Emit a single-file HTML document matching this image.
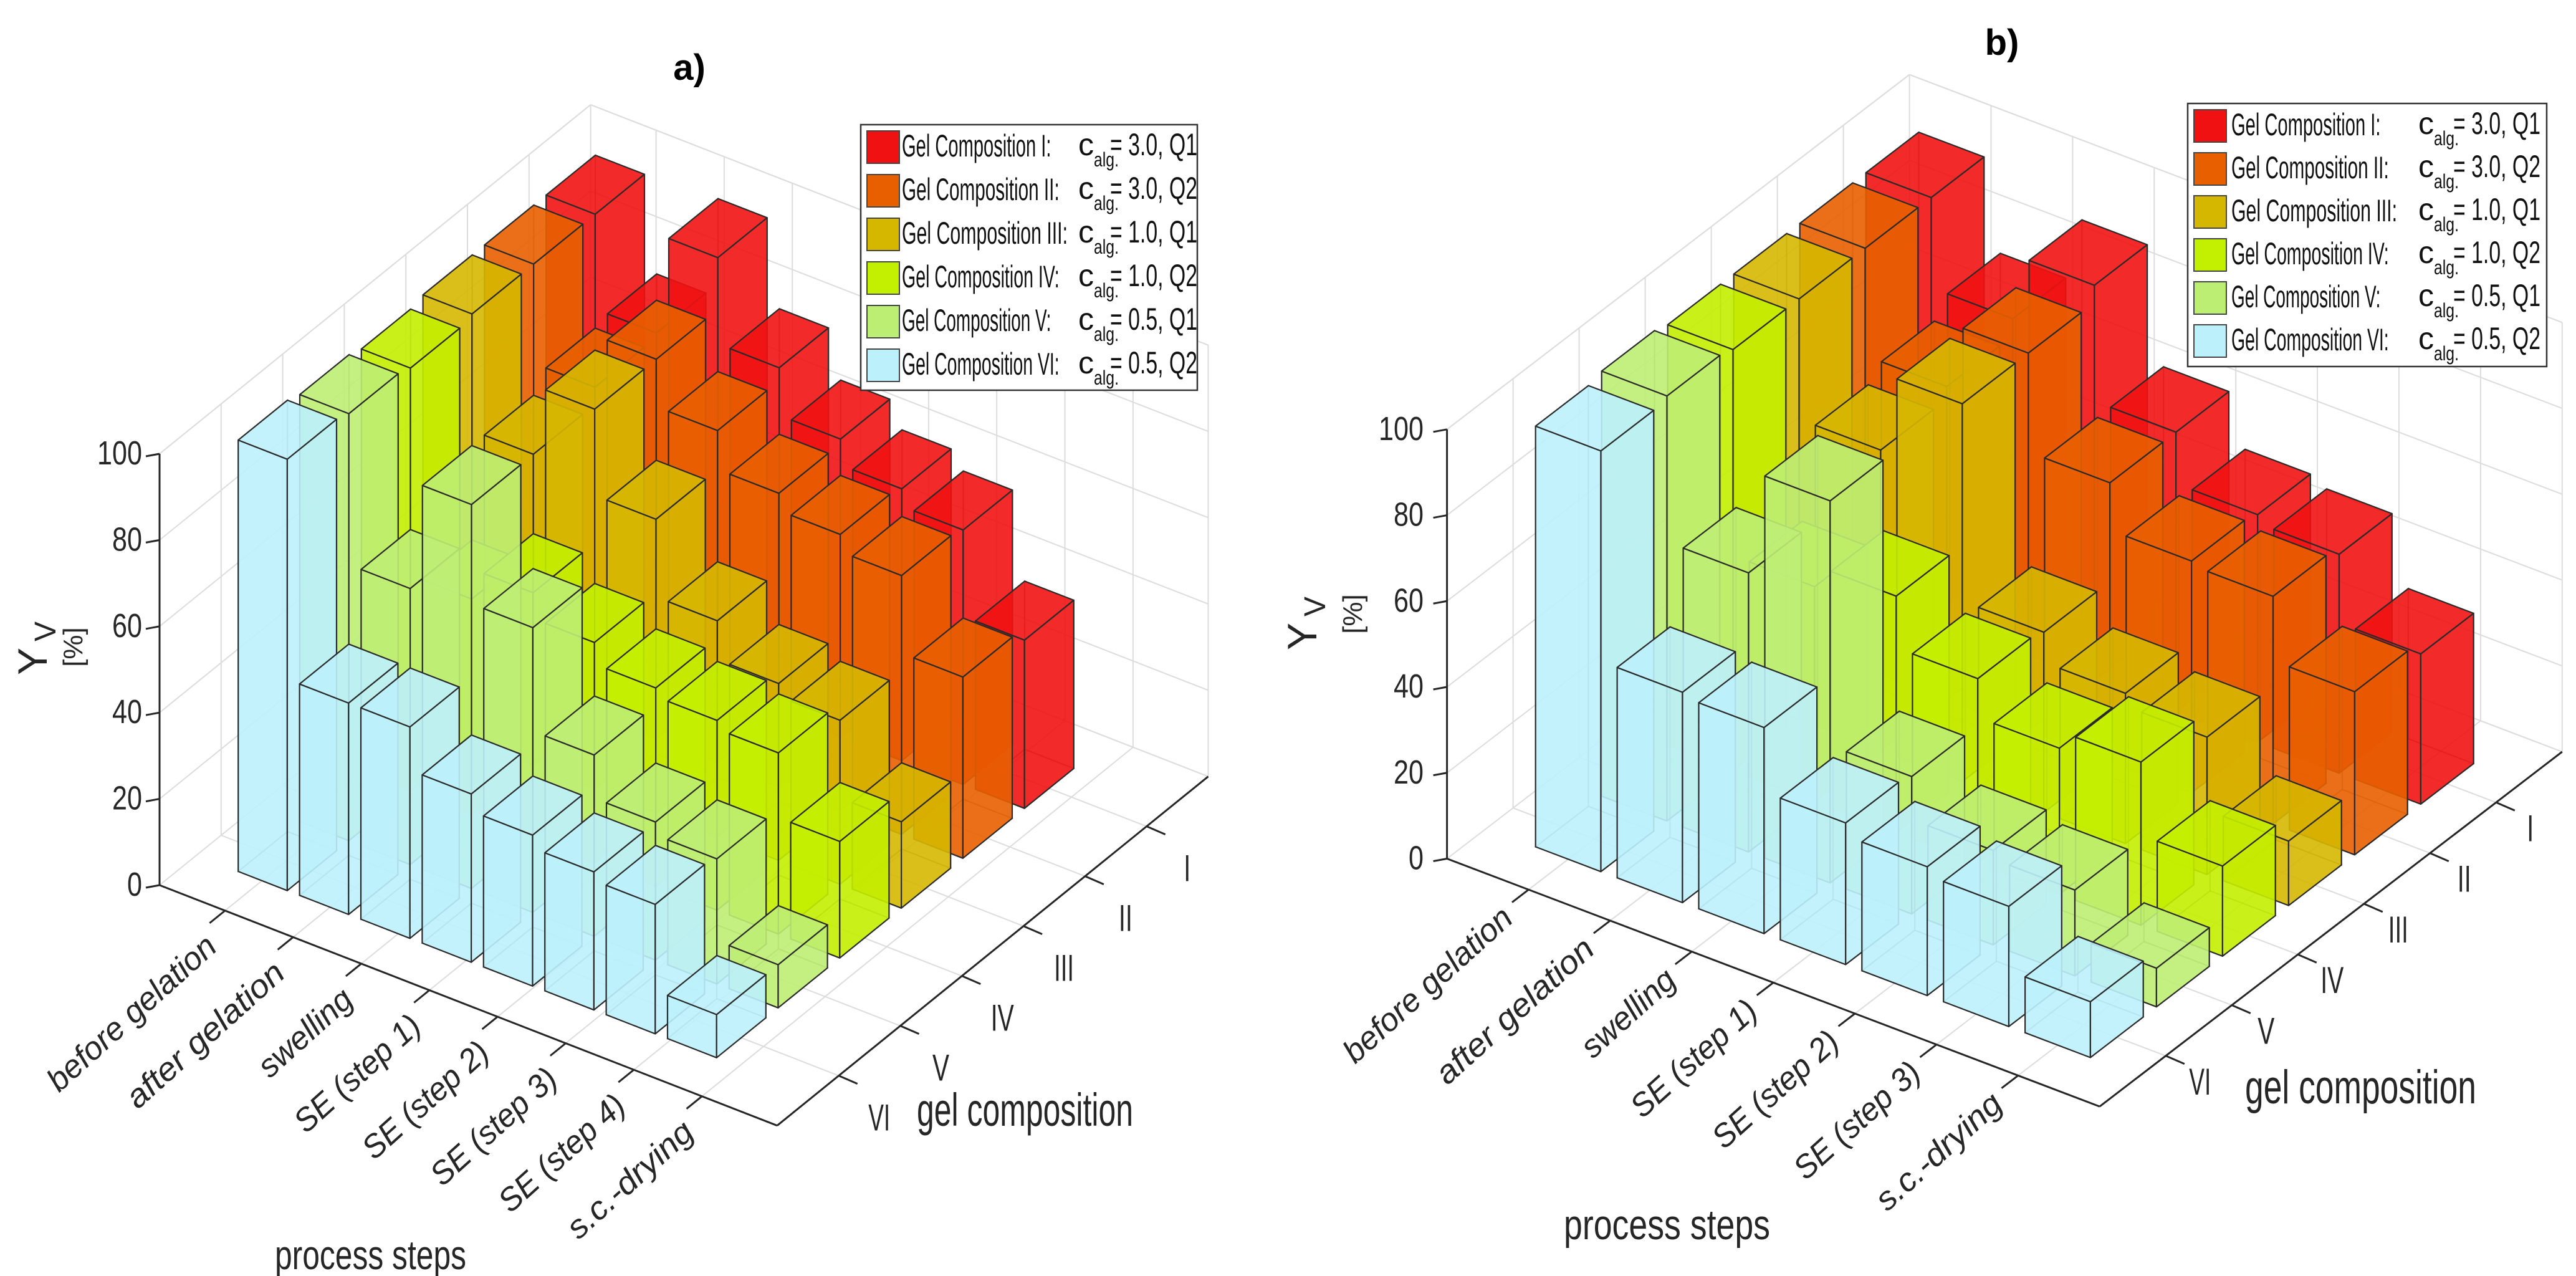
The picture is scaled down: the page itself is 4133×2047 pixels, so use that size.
<!DOCTYPE html>
<html><head><meta charset="utf-8"><style>
html,body{margin:0;padding:0;background:#fff;}
svg{display:block;font-family:"Liberation Sans",Arial,sans-serif;}
</style></head><body>
<svg id="chart" width="4133" height="2047" viewBox="0 0 4133 2047" xmlns="http://www.w3.org/2000/svg">
<rect x="0" y="0" width="4133" height="2047" fill="#fff"/>
<g id="panelA"></g>
<g id="panelB"></g>
</svg>
<script>
const stepsA = ['before gelation','after gelation','swelling','SE (step 1)','SE (step 2)','SE (step 3)','SE (step 4)','s.c.-drying'];
const stepsB = ['before gelation','after gelation','swelling','SE (step 1)','SE (step 2)','SE (step 3)','s.c.-drying'];
const comps = ['I','II','III','IV','V','VI'];
const zTicks = [0,20,40,60,80,100];
const legendCalg = ['3.0, Q1','3.0, Q2','1.0, Q1','1.0, Q2','0.5, Q1','0.5, Q2'];
const yvA_I   = [99, 77, 100, 80, 69, 63, 59, 39];
const yvA_II  = [99, 76, 88, 77, 68, 64, 60, 42];
const yvA_III = [99, 72, 88, 68, 50, 41, 38, 20];
const yvA_IV  = [98, 50, 57, 51, 46, 44, 42, 27];
const yvA_V   = [99, 64, 89, 66, 42, 32, 29, 10];
const yvA_VI  = [100, 49, 49, 39, 35, 32, 30, 10];
const yvB_I   = [98, 77, 92, 65, 53, 51, 35];
const yvB_II  = [98, 73, 88, 65, 54, 53, 38];
const yvB_III = [98, 70, 88, 42, 35, 32, 15];
const yvB_IV  = [98, 50, 55, 43, 34, 38, 21];
const yvB_V   = [99, 65, 89, 32, 22, 20, 9];
const yvB_VI  = [98, 49, 48, 33, 30, 28, 13];

const colors = ['#f01212','#e85f00','#d6b700','#c3ef00','#bdee74','#bcf0fb'];
const NS='http://www.w3.org/2000/svg';
function mk(tag, attrs, parent){const e=document.createElementNS(NS,tag);for(const k in attrs)e.setAttribute(k,attrs[k]);if(parent)parent.appendChild(e);return e;}

const panels = [
 {g:'panelA', title:'a)', titlePos:[1106,128], O:[256,1420], S:[98.4,38.3], C:[98.8,-80], Z:6.92, Ls:10.07, s0:0.68,
  steps:stepsA, vals:[yvA_I,yvA_II,yvA_III,yvA_IV,yvA_V,yvA_VI], tick0:1.067, tickStep:1.111,
  labOff:[-10,62], compLabOff:[65,88], zLabX:228, leg:[1381,200,540,426], legTx:[1447,1730,1781], legRow0:237, legPitch:70,
  ylab:[75,1040], ypct:[132,1038], gel:[1471,1806,347,74], proc:[441,2036,307,66]},
 {g:'panelB', title:'b)', titlePos:[3212,88], O:[2321.6,1377.5], S:[130.9,49.7], C:[106,-81.3], Z:6.887, Ls:8, s0:0.6,
  steps:stepsB, vals:[yvB_I,yvB_II,yvB_III,yvB_IV,yvB_V,yvB_VI], tick0:1, tickStep:1,
  labOff:[-22,50], compLabOff:[55,62], zLabX:2284, leg:[3510,166,576,422], legTx:[3580,3880,3936], legRow0:203, legPitch:69,
  ylab:[2112,1000], ypct:[2185,985], gel:[3602,1770,371,76], proc:[2509,1988,331,68]}
];

function proj(p,s,c,z){return [p.O[0]+s*p.S[0]+c*p.C[0], p.O[1]+s*p.S[1]+c*p.C[1]-z*p.Z];}
function pts(arr){return arr.map(a=>a[0].toFixed(1)+','+a[1].toFixed(1)).join(' ');}
function line(g,a,b,stroke,w){return mk('line',{x1:a[0],y1:a[1],x2:b[0],y2:b[1],stroke:stroke,'stroke-width':w},g);}

panels.forEach(p=>{
 const g=document.getElementById(p.g);
 const zmax=100, Lc=7;
 const grid='#dcdcdc';
 const gg=mk('g',{},g);
 
 
 const stepTicks=p.steps.map((_,j)=>p.tick0+p.tickStep*j);
 zTicks.forEach(z=>{line(gg,proj(p,0,0,z),proj(p,0,Lc,z),grid,2);line(gg,proj(p,0,Lc,z),proj(p,p.Ls,Lc,z),grid,2);});
 for(let c=1;c<=6;c++){line(gg,proj(p,0,c,0),proj(p,0,c,zmax),grid,2);line(gg,proj(p,0,c,0),proj(p,p.Ls,c,0),grid,2);}
 stepTicks.forEach(s=>{line(gg,proj(p,s,Lc,0),proj(p,s,Lc,zmax),grid,2);line(gg,proj(p,s,0,0),proj(p,s,Lc,0),grid,2);});
 line(gg,proj(p,0,Lc,0),proj(p,0,Lc,zmax),grid,2);
 line(gg,proj(p,p.Ls,Lc,0),proj(p,p.Ls,Lc,zmax),grid,2);
 line(gg,proj(p,0,0,zmax),proj(p,0,Lc,zmax),grid,2);
 line(gg,proj(p,0,Lc,zmax),proj(p,p.Ls,Lc,zmax),grid,2);
 line(gg,proj(p,0,Lc,0),proj(p,p.Ls,Lc,0),grid,2);

 const bars=[];
 p.vals.forEach((series,ci)=>{const k=5-ci;series.forEach((v,i)=>bars.push({i,k,ci,v}));});
 bars.sort((a,b)=>(b.k-b.i)-(a.k-a.i));
 const bg=mk('g',{},g);
 
 
 bars.forEach(b=>{
  const s1=p.s0+b.i, s2=s1+0.8, c1=0.6+b.k, c2=c1+0.8, h=b.v;
  const col=colors[b.ci];
  const e=mk('g',{},bg);
  
  
  const P=(s,c,z)=>proj(p,s,c,z);
  const back=[[P(s1,c1,0),P(s2,c1,0),P(s2,c2,0),P(s1,c2,0)],
   [P(s1,c1,0),P(s1,c2,0),P(s1,c2,h),P(s1,c1,h)],
   [P(s1,c2,0),P(s2,c2,0),P(s2,c2,h),P(s1,c2,h)]];
  back.forEach(f=>mk('polygon',{points:pts(f),fill:col,'fill-opacity':0.25,stroke:'#444','stroke-opacity':0.35,'stroke-width':2},e));
  const front=[[P(s1,c1,0),P(s2,c1,0),P(s2,c1,h),P(s1,c1,h)],
   [P(s2,c1,0),P(s2,c2,0),P(s2,c2,h),P(s2,c1,h)],
   [P(s1,c1,h),P(s2,c1,h),P(s2,c2,h),P(s1,c2,h)]];
  front.forEach(f=>mk('polygon',{points:pts(f),fill:col,'fill-opacity':0.87,stroke:'#2a2a2a','stroke-width':2.2,'stroke-linejoin':'round'},e));
 });

 const ag=mk('g',{},g);
 
 
 const F=proj(p,p.Ls,0,0), R=proj(p,p.Ls,Lc,0), O=proj(p,0,0,0);
 line(ag,O,F,'#262626',3); line(ag,F,R,'#262626',3); line(ag,O,proj(p,0,0,zmax),'#262626',3);
 zTicks.forEach(z=>{const a=proj(p,0,0,z);line(ag,[a[0]-22,a[1]+4],a,'#262626',3);
  const t=mk('text',{x:p.zLabX,y:a[1]+17,'font-size':54,'text-anchor':'end',fill:'#262626',textLength:String(z).length*24,lengthAdjust:'spacingAndGlyphs'},ag);t.textContent=z;
  
  });
 stepTicks.forEach((s,j)=>{const a=proj(p,s,0,0);const b=[a[0]-0.25*p.C[0],a[1]-0.25*p.C[1]];line(ag,a,b,'#262626',3);
  const lx=a[0]+p.labOff[0], ly=a[1]+p.labOff[1];
  const t=mk('text',{x:lx,y:ly,'font-size':52,'font-style':'italic','text-anchor':'end',fill:'#262626',transform:'rotate(-42 '+lx+' '+ly+')',textLength:p.steps[j].length*23,lengthAdjust:'spacingAndGlyphs'},ag);
  t.textContent=p.steps[j];
  
  });
 const compLen={I:11,II:22,III:32,IV:37,V:27,VI:35};
 for(let c=1;c<=6;c++){const a=proj(p,p.Ls,c,0);line(ag,a,[a[0]+30,a[1]+13],'#262626',3);
  const name=comps[6-c];
  const t=mk('text',{x:a[0]+p.compLabOff[0],y:a[1]+p.compLabOff[1],'font-size':60,'text-anchor':'middle',fill:'#262626',textLength:compLen[name],lengthAdjust:'spacingAndGlyphs'},ag);
  t.textContent=name;
  
  }

 let t=mk('text',{x:p.titlePos[0],y:p.titlePos[1],'font-size':58,'font-weight':'bold','text-anchor':'middle',fill:'#000'},g);t.textContent=p.title;
 
 
 t=mk('text',{x:p.ylab[0],y:p.ylab[1],'font-size':66,'text-anchor':'middle',fill:'#262626',transform:'rotate(-90 '+p.ylab[0]+' '+p.ylab[1]+')'},g);
 t.innerHTML='Y<tspan font-size="48" dy="14" dx="10">V</tspan>';
 
 
 t=mk('text',{x:p.ypct[0],y:p.ypct[1],'font-size':44,'text-anchor':'middle',fill:'#262626',transform:'rotate(-90 '+p.ypct[0]+' '+p.ypct[1]+')'},g);t.textContent='[%]';
 
 
 t=mk('text',{x:p.gel[0],y:p.gel[1],'font-size':p.gel[3],fill:'#262626',textLength:p.gel[2],lengthAdjust:'spacingAndGlyphs'},g);t.textContent='gel composition';
 
 
 t=mk('text',{x:p.proc[0],y:p.proc[1],'font-size':p.proc[3],fill:'#262626',textLength:p.proc[2],lengthAdjust:'spacingAndGlyphs'},g);t.textContent='process steps';
 
 

 const lg=mk('g',{},g);
 
 
 mk('rect',{x:p.leg[0],y:p.leg[1],width:p.leg[2],height:p.leg[3],fill:'#fff',stroke:'#333','stroke-width':2.5},lg);
 comps.forEach((c,ci)=>{
  const ry=p.legRow0+ci*p.legPitch;
  const en=mk('g',{},lg);
  
  
  mk('rect',{x:p.leg[0]+10,y:ry-27,width:52,height:52,fill:colors[ci],stroke:'#444','stroke-width':2},en);
  const lab='Gel Composition '+c+':';
  let tt=mk('text',{x:p.legTx[0],y:ry+14,'font-size':50,fill:'#111',textLength:lab.length*13.3,lengthAdjust:'spacingAndGlyphs'},en);tt.textContent=lab;
  tt=mk('text',{x:p.legTx[1],y:ry+12,'font-size':50,fill:'#111'},en);tt.innerHTML='c<tspan font-size="32" dy="18" textLength="40" lengthAdjust="spacingAndGlyphs">alg.</tspan>';
  tt=mk('text',{x:p.legTx[2],y:ry+12,'font-size':50,fill:'#111',textLength:140,lengthAdjust:'spacingAndGlyphs'},en);tt.textContent='= '+legendCalg[ci];
 });
});
</script>
</body></html>
